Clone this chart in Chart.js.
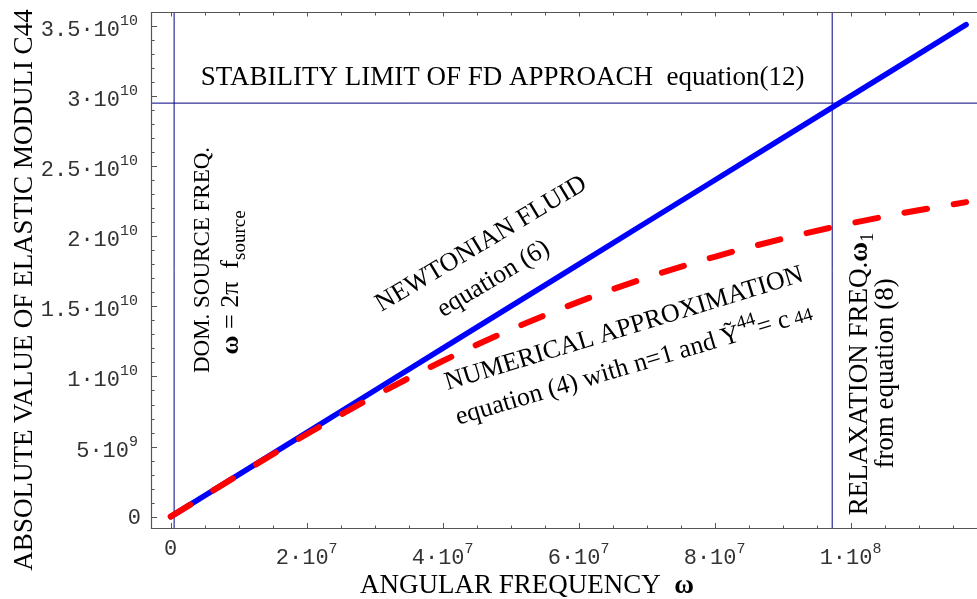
<!DOCTYPE html>
<html lang="en">
<head>
    <meta charset="UTF-8">
    <title>Elastic modulus C44 vs angular frequency</title>
    <style>
        html, body {
            margin: 0;
            padding: 0;
            background-color: #fff;
        }
        .container {
            width: 977px;
            height: 599px;
        }
    </style>
</head>
<body>
    <div class="container">
        <canvas id="chart" width="977" height="599"></canvas>
    </div>
    <script src="https://cdn.jsdelivr.net/npm/chart.js"></script>
    <script>
        // values
        const omega = [0, 1e7, 2e7, 3e7, 4e7, 5e7, 6e7, 7e7, 8e7, 9e7, 1e8, 1.1e8, 1.17e8];
        const newtonian = [0, 3.0e9, 6.0e9, 9.0e9, 1.2e10, 1.5e10, 1.8e10, 2.1e10, 2.4e10, 2.7e10, 3.0e10, 3.3e10, 3.51e10];
        const numerical = [0, 2.98e9, 5.88e9, 8.60e9, 1.110e10, 1.334e10, 1.532e10, 1.705e10, 1.854e10, 1.982e10, 2.092e10, 2.186e10, 2.244e10];

        const stabilityLimit = 2.95e10;
        const sourceFreq = 5e5;
        const relaxFreq = 9.73e7;

        const xTicks = [0, 2e7, 4e7, 6e7, 8e7, 1e8];
        const xTickLabels = [['0', ''], ['2·10', '7'], ['4·10', '7'], ['6·10', '7'], ['8·10', '7'], ['1·10', '8']];
        const yTicks = [0, 5e9, 1e10, 1.5e10, 2e10, 2.5e10, 3e10, 3.5e10];
        const yTickLabels = [['0', ''], ['5·10', '9'], ['1·10', '10'], ['1.5·10', '10'], ['2·10', '10'],
            ['2.5·10', '10'], ['3·10', '10'], ['3.5·10', '10']];

        const xMin = -2.9e6, xMax = 1.186e8;
        const yMin = -8.8e8, yMax = 3.6e10;

        const SERIF = '"Liberation Serif", "Times New Roman", serif';
        const MONO = '"Liberation Mono", "DejaVu Sans Mono", monospace';

        // text labels, anchored in data units
        const notes = [
            { x: 4.4e6, y: 3.08e10, angle: 0, align: 'left', parts: [
                { t: 'STABILITY LIMIT OF FD APPROACH', s: 27 }, { t: '  equation(12)', s: 27 }] },
            { x: 4.62e7, y: 1.9026e10, angle: -31, align: 'center', parts: [{ t: 'NEWTONIAN FLUID', s: 26 }] },
            { x: 4.8e7, y: 1.653e10, angle: -31, align: 'center', parts: [{ t: 'equation (6)', s: 26 }] },
            { x: 6.698e7, y: 1.2926e10, angle: -17, align: 'center', parts: [{ t: 'NUMERICAL APPROXIMATION', s: 26 }] },
            { x: 6.845e7, y: 1.032e10, angle: -16.5, align: 'center', parts: [
                { t: 'equation (4) with n=1 and ', s: 26 }, { t: 'Ỹ', s: 26 }, { t: '44', s: 19, dy: -12 },
                { t: '= c', s: 26 }, { t: ' 44', s: 19 }] },
            { x: 5.63e6, y: 1.831e10, angle: -90, align: 'center', parts: [{ t: 'DOM. SOURCE FREQ.', s: 23 }] },
            { x: 9.9e6, y: 1.671e10, angle: -90, align: 'center', parts: [
                { t: 'ω', s: 26, b: true }, { t: ' = 2π  f', s: 26 }, { t: 'source', s: 19, dy: 7 }] },
            { x: 1.0243e8, y: 1.018e10, angle: -90, align: 'center', parts: [
                { t: 'RELAXATION FREQ.', s: 27 }, { t: 'ω', s: 27, b: true }, { t: '1', s: 19, dy: 6 }] },
            { x: 1.0625e8, y: 1.022e10, angle: -90, align: 'center', parts: [{ t: 'from equation (8)', s: 27 }] }
        ];

        function drawRich(ctx, parts, x, y, angle, align, family, color) {
            ctx.save();
            ctx.translate(x, y);
            ctx.rotate(angle * Math.PI / 180);
            ctx.fillStyle = color || '#000';
            ctx.textBaseline = 'alphabetic';
            ctx.textAlign = 'left';
            let total = 0;
            parts.forEach(p => {
                ctx.font = (p.b ? 'bold ' : '') + p.s + 'px ' + (family || SERIF);
                p.w = ctx.measureText(p.t).width;
                total += p.w;
            });
            let cx = align === 'center' ? -total / 2 : (align === 'right' ? -total : 0);
            parts.forEach(p => {
                ctx.font = (p.b ? 'bold ' : '') + p.s + 'px ' + (family || SERIF);
                ctx.fillText(p.t, cx, p.dy || 0);
                cx += p.w;
            });
            ctx.restore();
        }

        const framePlugin = {
            id: 'frame',
            afterDraw(chart) {
                const ctx = chart.ctx;
                const xs = chart.scales.x, ys = chart.scales.y;
                const a = chart.chartArea;
                ctx.save();
                ctx.strokeStyle = '#555';
                ctx.lineWidth = 1.2;
                ctx.beginPath();
                ctx.moveTo(a.right, a.top + 0.5);
                ctx.lineTo(a.left + 0.5, a.top + 0.5);
                ctx.lineTo(a.left + 0.5, a.bottom - 0.5);
                ctx.lineTo(a.right, a.bottom - 0.5);
                ctx.stroke();

                // ticks pointing into the plot
                ctx.lineWidth = 1;
                ctx.beginPath();
                for (let v = 0; v <= xMax; v += 5e6) {
                    const px = Math.round(xs.getPixelForValue(v)) + 0.5;
                    const major = xTicks.some(t => Math.abs(t - v) < 1);
                    ctx.moveTo(px, a.bottom);
                    ctx.lineTo(px, a.bottom - (major ? 6 : 3.5));
                    ctx.moveTo(px, a.top);
                    ctx.lineTo(px, a.top + (major ? 4.5 : 3.5));
                }
                for (let v = 0; v <= yMax; v += 1e9) {
                    const py = Math.round(ys.getPixelForValue(v)) + 0.5;
                    const major = yTicks.some(t => Math.abs(t - v) < 1);
                    ctx.moveTo(a.left, py);
                    ctx.lineTo(a.left + (major ? 6 : 3.7), py);
                }
                ctx.stroke();
                ctx.restore();

                // tick labels with superscript exponents
                xTicks.forEach((v, i) => {
                    const [base, sup] = xTickLabels[i];
                    const px = xs.getPixelForValue(v);
                    const by = sup ? a.bottom + 35 : a.bottom + 26;
                    drawRich(ctx, [{ t: base, s: 22 }, { t: sup, s: 15, dy: -11 }], px, by, 0, 'center', MONO, '#333');
                });
                yTicks.forEach((v, i) => {
                    const [base, sup] = yTickLabels[i];
                    const py = ys.getPixelForValue(v);
                    const by = sup ? py + 10 : py + 7;
                    const right = sup ? a.left - 13 : a.left - 10;
                    drawRich(ctx, [{ t: base, s: 22 }, { t: sup, s: 15, dy: -11 }], right, by, 0, 'right', MONO, '#333');
                });

                // axis titles
                drawRich(ctx, [{ t: 'ABSOLUTE VALUE OF ELASTIC MODULI C44', s: 27 }], 32, 290, -90, 'center');
                drawRich(ctx, [{ t: 'ANGULAR FREQUENCY  ', s: 27 }, { t: 'ω', s: 27, b: true }], 527, 593, 0, 'center');

                // annotations
                notes.forEach(n => {
                    drawRich(ctx, n.parts, xs.getPixelForValue(n.x), ys.getPixelForValue(n.y), n.angle, n.align);
                });
            }
        };

        const curve = (ys) => omega.map((w, i) => ({ x: w, y: ys[i] }));

        const ctx = document.getElementById('chart').getContext('2d');
        const chart = new Chart(ctx, {
            type: 'line',
            data: {
                datasets: [{
                    label: 'numerical approximation',
                    data: curve(numerical),
                    borderColor: '#ff0000',
                    borderWidth: 6,
                    borderDash: [23, 27],
                    borderCapStyle: 'round',
                    cubicInterpolationMode: 'monotone',
                    pointRadius: 0
                }, {
                    label: 'newtonian fluid',
                    data: curve(newtonian),
                    borderColor: '#0000ff',
                    borderWidth: 5.5,
                    borderCapStyle: 'round',
                    pointRadius: 0
                }, {
                    label: 'stability limit',
                    data: [{ x: xMin, y: stabilityLimit }, { x: xMax, y: stabilityLimit }],
                    borderColor: '#000080',
                    borderWidth: 1,
                    pointRadius: 0
                }, {
                    label: 'source frequency',
                    data: [{ x: sourceFreq, y: yMin }, { x: sourceFreq, y: yMax }],
                    borderColor: '#000080',
                    borderWidth: 1,
                    pointRadius: 0
                }, {
                    label: 'relaxation frequency',
                    data: [{ x: relaxFreq, y: yMin }, { x: relaxFreq, y: yMax }],
                    borderColor: '#000080',
                    borderWidth: 1,
                    pointRadius: 0
                }]
            },
            options: {
                responsive: false,
                animation: false,
                layout: { padding: { top: 12, right: 0, left: 0, bottom: 0 } },
                plugins: {
                    legend: { display: false },
                    tooltip: { enabled: false }
                },
                scales: {
                    x: {
                        type: 'linear',
                        min: xMin,
                        max: xMax,
                        grid: { display: false },
                        border: { display: false },
                        ticks: { display: false },
                        afterFit: (s) => { s.height = 70; }
                    },
                    y: {
                        type: 'linear',
                        min: yMin,
                        max: yMax,
                        grid: { display: false },
                        border: { display: false },
                        ticks: { display: false },
                        afterFit: (s) => { s.width = 151; }
                    }
                }
            },
            plugins: [framePlugin]
        });
    </script>
</body>
</html>
